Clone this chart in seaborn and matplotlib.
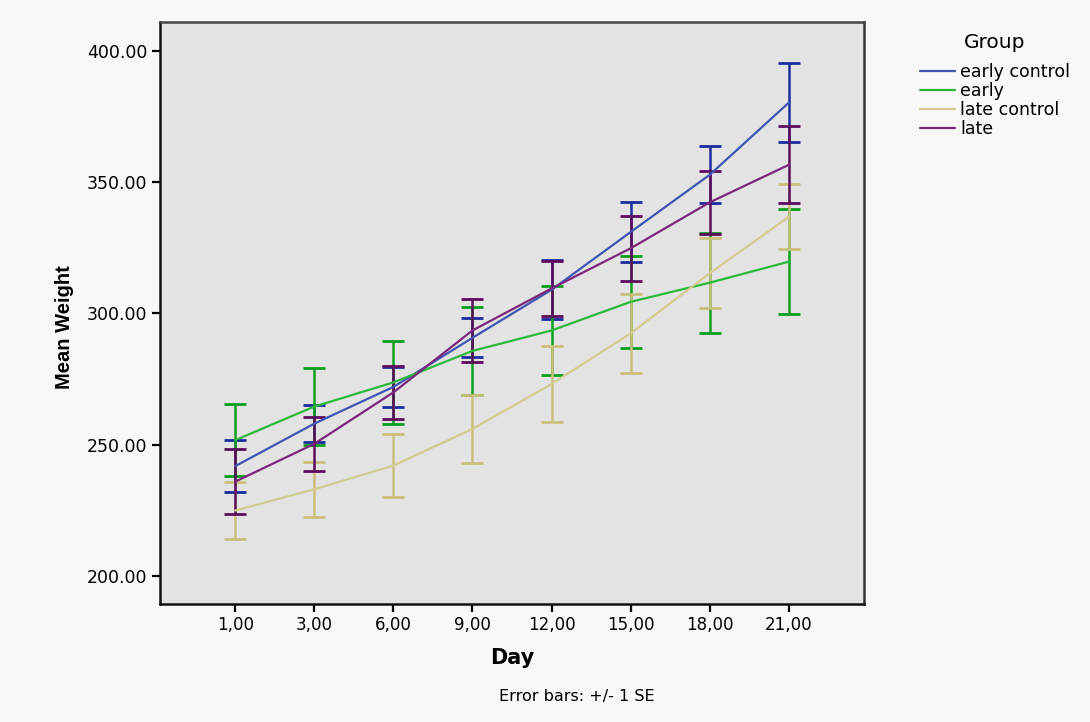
import matplotlib
matplotlib.use("Agg")
import matplotlib.pyplot as plt
from matplotlib import font_manager as fm
import seaborn as sns
import pandas as pd
import numpy as np

# ---- data ----
days = ["1,00", "3,00", "6,00", "9,00", "12,00", "15,00", "18,00", "21,00"]
groups = ["early control", "early", "late control", "late"]

early_control_mean = [241.8, 258.0, 272.0, 290.7, 309.0, 331.0, 352.8, 380.3]
early_control_se = [10.0, 7.0, 7.7, 7.5, 11.3, 11.5, 10.8, 15.2]
early_mean = [251.7, 264.5, 273.7, 285.7, 293.5, 304.4, 311.7, 319.7]
early_se = [13.7, 14.6, 15.8, 16.7, 17.0, 17.5, 19.0, 20.0]
late_control_mean = [224.9, 233.0, 242.0, 256.0, 273.1, 292.4, 315.3, 336.8]
late_control_se = [10.8, 10.5, 12.0, 13.0, 14.3, 15.0, 13.3, 12.4]
late_mean = [235.9, 250.3, 269.9, 293.5, 309.5, 324.8, 342.3, 356.6]
late_se = [12.3, 10.3, 10.2, 12.0, 10.5, 12.3, 12.0, 14.6]

yticks = [200, 250, 300, 350, 400]

means = [early_control_mean, early_mean, late_control_mean, late_mean]
ses = [early_control_se, early_se, late_control_se, late_se]

rows = []
for g, m, s in zip(groups, means, ses):
    for i, d in enumerate(days):
        rows.append({"Group": g, "pos": i, "Day": d, "mean": m[i], "se": s[i]})
df = pd.DataFrame(rows)

line_colors = {"early control": "#3f55b2", "early": "#2bb83a",
               "late control": "#d3cc92", "late": "#7a267a"}
bar_colors = {"early control": "#1c2c9e", "early": "#0c9e1e",
              "late control": "#c9c07c", "late": "#5c0c5c"}

# ---- style ----
sns.set_style("ticks")
plt.rcParams["font.family"] = ["DejaVu Sans"]
plt.rcParams["text.color"] = "black"
plt.rcParams["axes.labelcolor"] = "black"


def has_font(name):
    try:
        fm.findfont(fm.FontProperties(family=name), fallback_to_default=False)
        return True
    except Exception:
        return False


fig = plt.figure(figsize=(10.9, 7.22), dpi=100, facecolor="#f8f8f8")
ax = fig.add_axes([160 / 1090, 1 - 604 / 722, (864 - 160) / 1090, (604 - 22) / 722])
ax.set_facecolor("#e3e3e3")

# error bars
for g in groups:
    sub = df[df["Group"] == g]
    ax.errorbar(sub["pos"], sub["mean"], yerr=sub["se"], fmt="none",
                ecolor=bar_colors[g], elinewidth=1.8, capsize=8, capthick=2.0,
                zorder=2)

sns.lineplot(data=df, x="pos", y="mean", hue="Group", hue_order=groups,
             palette=line_colors, errorbar=None, linewidth=1.6, ax=ax,
             zorder=3, legend=True)

ax.set_xlim(-0.95, 7.95)
ax.set_ylim(189.3, 411.0)
ax.set_xticks(range(len(days)))
ax.set_xticklabels(days)
ax.set_yticks(yticks)
ax.set_yticklabels([f"{v:.2f}" for v in yticks])
ax.tick_params(axis="both", labelsize=12, length=6, width=1.6, color="black",
               labelcolor="black", pad=3)
ax.tick_params(axis="y", labelsize=12.5)

for side in ["left", "bottom", "top", "right"]:
    ax.spines[side].set_visible(True)
    ax.spines[side].set_color("#111111")
    ax.spines[side].set_linewidth(1.8)
ax.spines["top"].set_color("#444444")
ax.spines["right"].set_color("#333333")

# axis labels
ax.set_xlabel("Day", fontsize=15, fontweight="bold", labelpad=10)
yl_family = "Liberation Sans" if has_font("Liberation Sans") else "DejaVu Sans"
ax.set_ylabel("Mean Weight", fontsize=14.5, fontweight="bold",
              family=yl_family)
ax.yaxis.set_label_coords(-0.122, (604 - 327) / (604 - 22))

fig.text(577 / 1090, 1 - 697 / 722, "Error bars: +/- 1 SE", fontsize=11.5,
         ha="center", va="center", color="black")

# legend
handles, labels = ax.get_legend_handles_labels()
ax.get_legend().remove()
leg = fig.legend(handles, labels, loc="upper left",
                 bbox_to_anchor=(913 / 1090, 1 - 26 / 722), frameon=False,
                 title="Group", fontsize=12.5, title_fontsize=14.5,
                 handlelength=2.0, handletextpad=0.3, labelspacing=0.05,
                 borderaxespad=0)
leg._legend_box.align = "center"
leg._legend_box.sep = 8

fig.savefig("out.png", dpi=100, facecolor=fig.get_facecolor())
